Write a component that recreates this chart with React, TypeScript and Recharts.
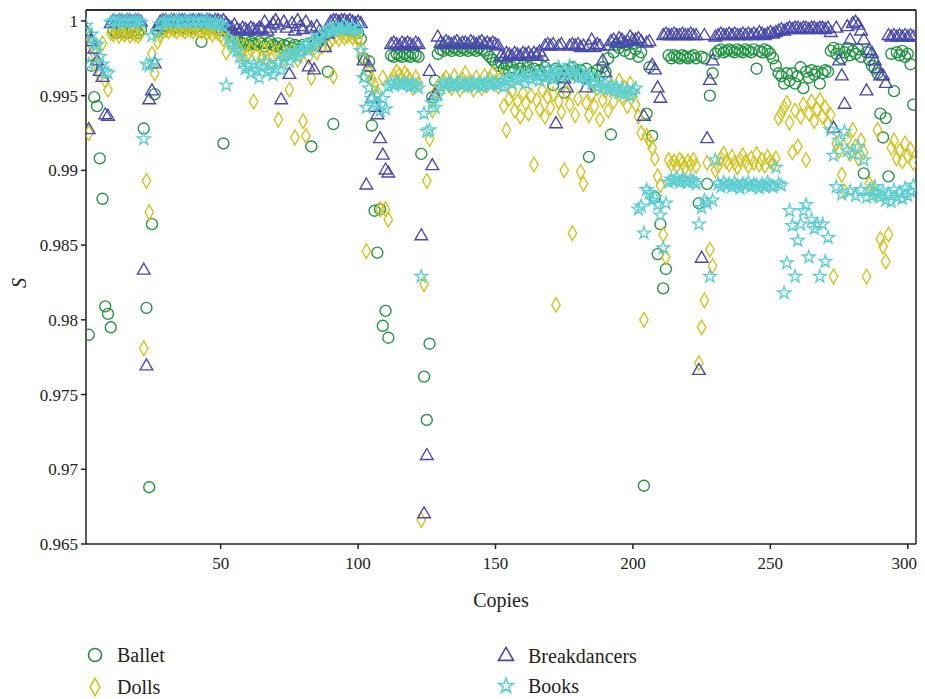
import React from 'react';
import { ScatterChart, Scatter, XAxis, YAxis, ReferenceLine, Symbols } from 'recharts';

const ballet: number[] = [
  0.9992, 0.9790, 0.9970, 0.9949, 0.9943, 0.9908, 0.9881, 0.9809, 0.9804, 0.9795,
  0.9994, 0.9992, 0.9995, 0.9993, 0.9994, 0.9992, 0.9995, 0.9993, 0.9994, 0.9992,
  0.9994, 0.9928, 0.9808, 0.9688, 0.9864, 0.9951, 0.9993, 0.9996, 0.9995, 0.9997,
  0.9996, 0.9997, 0.9995, 0.9996, 0.9997, 0.9996, 0.9995, 0.9997, 0.9996, 0.9995,
  0.9996, 0.9997, 0.9986, 0.9996, 0.9995, 0.9997, 0.9996, 0.9995, 0.9996, 0.9994,
  0.9918, 0.9993, 0.9991, 0.9992, 0.9990, 0.9988, 0.9986, 0.9985, 0.9987, 0.9984,
  0.9986, 0.9985, 0.9984, 0.9986, 0.9985, 0.9983, 0.9985, 0.9986, 0.9984, 0.9983,
  0.9985, 0.9982, 0.9984, 0.9983, 0.9985, 0.9982, 0.9984, 0.9983, 0.9981, 0.9984,
  0.9983, 0.9985, 0.9916, 0.9984, 0.9986, 0.9988, 0.9990, 0.9991, 0.9966, 0.9993,
  0.9931, 0.9995, 0.9994, 0.9996, 0.9995, 0.9994, 0.9995, 0.9993, 0.9994, 0.9992,
  0.9988, 0.9975, 0.9963, 0.9973, 0.9930, 0.9873, 0.9845, 0.9874, 0.9796, 0.9806,
  0.9788, 0.9977, 0.9976, 0.9978, 0.9977, 0.9976, 0.9978, 0.9977, 0.9976, 0.9978,
  0.9977, 0.9976, 0.9911, 0.9762, 0.9733, 0.9784, 0.9949, 0.9960, 0.9978, 0.9981,
  0.9980, 0.9982, 0.9981, 0.9980, 0.9982, 0.9981, 0.9980, 0.9982, 0.9981, 0.9980,
  0.9982, 0.9981, 0.9980, 0.9982, 0.9981, 0.9980, 0.9978, 0.9976, 0.9974, 0.9972,
  0.9970, 0.9972, 0.9968, 0.9971, 0.9966, 0.9969, 0.9967, 0.9972, 0.9968, 0.9970,
  0.9966, 0.9969, 0.9965, 0.9968, 0.9971, 0.9967, 0.9964, 0.9969, 0.9966, 0.9962,
  0.9957, 0.9968, 0.9966, 0.9963, 0.9952, 0.9967, 0.9965, 0.9969, 0.9966, 0.9963,
  0.9967, 0.9962, 0.9968, 0.9909, 0.9965, 0.9960, 0.9967, 0.9963, 0.9969, 0.9966,
  0.9975, 0.9924, 0.9979, 0.9984, 0.9982, 0.9985, 0.9980, 0.9984, 0.9978, 0.9985,
  0.9981, 0.9976, 0.9979, 0.9689, 0.9938, 0.9969, 0.9923, 0.9882, 0.9844, 0.9864,
  0.9821, 0.9834, 0.9977, 0.9975, 0.9977, 0.9976, 0.9975, 0.9977, 0.9976, 0.9975,
  0.9976, 0.9977, 0.9975, 0.9878, 0.9976, 0.9975, 0.9891, 0.9950, 0.9965, 0.9978,
  0.9980, 0.9981, 0.9979, 0.9980, 0.9981, 0.9980, 0.9979, 0.9981, 0.9980, 0.9979,
  0.9981, 0.9980, 0.9979, 0.9981, 0.9968, 0.9980, 0.9979, 0.9981, 0.9980, 0.9978,
  0.9975, 0.9970, 0.9965, 0.9963, 0.9958, 0.9965, 0.9960, 0.9965, 0.9958, 0.9963,
  0.9969, 0.9955, 0.9966, 0.9962, 0.9967, 0.9964, 0.9966, 0.9958, 0.9965, 0.9967,
  0.9966, 0.9980, 0.9982, 0.9978, 0.9981, 0.9975, 0.9979, 0.9982, 0.9977, 0.9980,
  0.9978, 0.9981, 0.9976, 0.9898, 0.9979, 0.9974, 0.9970, 0.9968, 0.9965, 0.9938,
  0.9922, 0.9935, 0.9896, 0.9978, 0.9953, 0.9979, 0.9977, 0.9980, 0.9976, 0.9978,
  0.9971, 0.9944,
];

const dolls: number[] = [
  0.9992, 0.9925, 0.9984, 0.9978, 0.9971, 0.9964, 0.9985, 0.9960, 0.9954, 0.9992,
  0.9991, 0.9993, 0.9990, 0.9992, 0.9991, 0.9993, 0.9990, 0.9992, 0.9991, 0.9990,
  0.9992, 0.9781, 0.9893, 0.9872, 0.9978, 0.9965, 0.9986, 0.9990, 0.9993, 0.9994,
  0.9993, 0.9995, 0.9994, 0.9993, 0.9995, 0.9994, 0.9993, 0.9995, 0.9994, 0.9993,
  0.9995, 0.9994, 0.9993, 0.9994, 0.9992, 0.9993, 0.9991, 0.9993, 0.9992, 0.9990,
  0.9988, 0.9979, 0.9990, 0.9985, 0.9987, 0.9982, 0.9980, 0.9976, 0.9983, 0.9978,
  0.9981, 0.9946, 0.9977, 0.9983, 0.9975, 0.9980, 0.9973, 0.9982, 0.9976, 0.9979,
  0.9934, 0.9981, 0.9975, 0.9978, 0.9954, 0.9980, 0.9922, 0.9974, 0.9977, 0.9933,
  0.9923, 0.9976, 0.9962, 0.9982, 0.9979, 0.9985, 0.9983, 0.9988, 0.9984, 0.9986,
  0.9963, 0.9990, 0.9988, 0.9991, 0.9989, 0.9990, 0.9991, 0.9989, 0.9990, 0.9988,
  0.9982, 0.9975, 0.9846, 0.9966, 0.9961, 0.9957, 0.9952, 0.9874, 0.9962, 0.9874,
  0.9867, 0.9960, 0.9963, 0.9966, 0.9964, 0.9961, 0.9965, 0.9963, 0.9960, 0.9955,
  0.9962, 0.9958, 0.9666, 0.9824, 0.9893, 0.9921, 0.9940, 0.9952, 0.9956, 0.9954,
  0.9960, 0.9962, 0.9957, 0.9955, 0.9963, 0.9958, 0.9954, 0.9961, 0.9965, 0.9957,
  0.9959, 0.9954, 0.9962, 0.9958, 0.9955, 0.9963, 0.9957, 0.9961, 0.9965, 0.9959,
  0.9956, 0.9962, 0.9943, 0.9927, 0.9948, 0.9953, 0.9940, 0.9946, 0.9936, 0.9952,
  0.9945, 0.9938, 0.9950, 0.9904, 0.9947, 0.9941, 0.9954, 0.9936, 0.9949, 0.9942,
  0.9951, 0.9810, 0.9946, 0.9939, 0.9900, 0.9952, 0.9944, 0.9858, 0.9937, 0.9948,
  0.9899, 0.9891, 0.9945, 0.9937, 0.9951, 0.9943, 0.9955, 0.9934, 0.9947, 0.9953,
  0.9940, 0.9957, 0.9946, 0.9954, 0.9960, 0.9949, 0.9955, 0.9943, 0.9958, 0.9952,
  0.9944, 0.9936, 0.9925, 0.9800, 0.9923, 0.9920, 0.9915, 0.9908, 0.9896, 0.9890,
  0.9857, 0.9842, 0.9907, 0.9904, 0.9906, 0.9903, 0.9907, 0.9905, 0.9902, 0.9906,
  0.9904, 0.9907, 0.9903, 0.9771, 0.9795, 0.9813, 0.9905, 0.9847, 0.9836, 0.9900,
  0.9903, 0.9908, 0.9911, 0.9906, 0.9904, 0.9909, 0.9905, 0.9902, 0.9907, 0.9910,
  0.9906, 0.9903, 0.9908, 0.9905, 0.9911, 0.9904, 0.9907, 0.9903, 0.9909, 0.9906,
  0.9904, 0.9908, 0.9935, 0.9938, 0.9942, 0.9945, 0.9932, 0.9912, 0.9940, 0.9916,
  0.9936, 0.9944, 0.9907, 0.9938, 0.9946, 0.9933, 0.9941, 0.9947, 0.9936, 0.9942,
  0.9931, 0.9937, 0.9829, 0.9918, 0.9913, 0.9897, 0.9886, 0.9921, 0.9911, 0.9927,
  0.9916, 0.9908, 0.9920, 0.9912, 0.9829, 0.9891, 0.9888, 0.9884, 0.9927, 0.9854,
  0.9849, 0.9839, 0.9857, 0.9915, 0.9920, 0.9908, 0.9913, 0.9906, 0.9918, 0.9910,
  0.9914, 0.9905,
];

const breakdancers: number[] = [
  0.9993, 0.9927, 0.9986, 0.9981, 0.9973, 0.9966, 0.9962, 0.9937, 0.9936, 0.9998,
  1.0000, 0.9999, 1.0000, 1.0000, 0.9999, 1.0000, 1.0000, 0.9999, 1.0000, 1.0000,
  0.9999, 0.9833, 0.9769, 0.9947, 0.9953, 0.9971, 0.9996, 0.9999, 1.0000, 1.0000,
  0.9999, 1.0000, 1.0000, 0.9999, 1.0000, 1.0000, 1.0000, 0.9999, 1.0000, 1.0000,
  0.9999, 1.0000, 1.0000, 0.9999, 1.0000, 1.0000, 0.9999, 1.0000, 1.0000, 0.9999,
  1.0000, 0.9998, 0.9996, 0.9995, 0.9997, 0.9994, 0.9993, 0.9995, 0.9994, 0.9993,
  0.9995, 0.9994, 0.9993, 0.9995, 0.9994, 0.9999, 0.9993, 0.9995, 0.9998, 1.0000,
  0.9997, 0.9947, 0.9999, 0.9995, 0.9964, 0.9998, 0.9993, 1.0000, 0.9996, 0.9994,
  0.9999, 0.9969, 0.9995, 0.9967, 0.9996, 0.9993, 0.9990, 0.9982, 0.9991, 0.9999,
  1.0000, 1.0000, 0.9999, 1.0000, 1.0000, 0.9999, 1.0000, 0.9999, 0.9998, 0.9999,
  0.9998, 0.9973, 0.9890, 0.9969, 0.9948, 0.9942, 0.9937, 0.9921, 0.9910, 0.9900,
  0.9898, 0.9984, 0.9985, 0.9984, 0.9983, 0.9985, 0.9984, 0.9985, 0.9984, 0.9983,
  0.9985, 0.9984, 0.9856, 0.9670, 0.9709, 0.9966, 0.9903, 0.9950, 0.9989, 0.9985,
  0.9984, 0.9986, 0.9985, 0.9984, 0.9985, 0.9986, 0.9984, 0.9985, 0.9985, 0.9984,
  0.9986, 0.9985, 0.9984, 0.9985, 0.9986, 0.9984, 0.9985, 0.9984, 0.9985, 0.9984,
  0.9983, 0.9976, 0.9975, 0.9978, 0.9977, 0.9976, 0.9978, 0.9977, 0.9976, 0.9978,
  0.9977, 0.9978, 0.9976, 0.9978, 0.9977, 0.9979, 0.9976, 0.9983, 0.9984, 0.9983,
  0.9984, 0.9931, 0.9983, 0.9984, 0.9961, 0.9955, 0.9983, 0.9984, 0.9983, 0.9984,
  0.9982, 0.9983, 0.9955, 0.9983, 0.9987, 0.9982, 0.9984, 0.9983, 0.9973, 0.9965,
  0.9983, 0.9986, 0.9987, 0.9985, 0.9988, 0.9987, 0.9985, 0.9986, 0.9989, 0.9987,
  0.9987, 0.9988, 0.9986, 0.9936, 0.9985, 0.9986, 0.9970, 0.9967, 0.9955, 0.9948,
  0.9990, 0.9991, 0.9990, 0.9990, 0.9991, 0.9990, 0.9990, 0.9991, 0.9990, 0.9990,
  0.9991, 0.9990, 0.9990, 0.9766, 0.9841, 0.9990, 0.9921, 0.9960, 0.9973, 0.9989,
  0.9990, 0.9991, 0.9990, 0.9990, 0.9991, 0.9990, 0.9991, 0.9990, 0.9990, 0.9991,
  0.9990, 0.9991, 0.9990, 0.9991, 0.9990, 0.9992, 0.9991, 0.9990, 0.9991, 0.9992,
  0.9991, 0.9992, 0.9993, 0.9994, 0.9993, 0.9994, 0.9995, 0.9994, 0.9995, 0.9995,
  0.9994, 0.9995, 0.9995, 0.9994, 0.9995, 0.9995, 0.9994, 0.9995, 0.9995, 0.9994,
  0.9995, 0.9992, 0.9928, 0.9995, 0.9973, 0.9963, 0.9944, 0.9996, 0.9987, 0.9998,
  0.9999, 0.9997, 0.9993, 0.9987, 0.9953, 0.9980, 0.9978, 0.9973, 0.9968, 0.9963,
  0.9963, 0.9958, 0.9990, 0.9989, 0.9990, 0.9989, 0.9990, 0.9989, 0.9990, 0.9989,
  0.9990, 0.9989,
];

const books: number[] = [
  0.9997, 0.9971, 0.9991, 0.9985, 0.9984, 0.9976, 0.9971, 0.9966, 0.9965, 0.9999,
  1.0000, 0.9999, 1.0000, 1.0000, 0.9999, 1.0000, 1.0000, 0.9999, 1.0000, 1.0000,
  0.9999, 0.9921, 0.9971, 0.9970, 0.9990, 0.9973, 0.9993, 0.9998, 0.9999, 1.0000,
  0.9999, 1.0000, 0.9999, 1.0000, 1.0000, 0.9999, 1.0000, 0.9999, 1.0000, 0.9999,
  1.0000, 0.9999, 1.0000, 0.9999, 1.0000, 0.9999, 0.9998, 0.9999, 0.9997, 0.9998,
  0.9996, 0.9957, 0.9988, 0.9985, 0.9982, 0.9980, 0.9976, 0.9972, 0.9968, 0.9970,
  0.9965, 0.9971, 0.9967, 0.9962, 0.9969, 0.9973, 0.9966, 0.9970, 0.9964, 0.9968,
  0.9972, 0.9967, 0.9975, 0.9978, 0.9973, 0.9977, 0.9980, 0.9976, 0.9979, 0.9982,
  0.9984, 0.9980, 0.9986, 0.9983, 0.9987, 0.9990, 0.9988, 0.9992, 0.9994, 0.9995,
  0.9993, 0.9996, 0.9994, 0.9995, 0.9997, 0.9995, 0.9994, 0.9996, 0.9993, 0.9995,
  0.9980, 0.9962, 0.9942, 0.9955, 0.9948, 0.9945, 0.9950, 0.9940, 0.9948, 0.9941,
  0.9956, 0.9958, 0.9957, 0.9959, 0.9958, 0.9957, 0.9959, 0.9958, 0.9956, 0.9958,
  0.9957, 0.9955, 0.9829, 0.9938, 0.9926, 0.9927, 0.9945, 0.9942, 0.9950, 0.9956,
  0.9958, 0.9957, 0.9959, 0.9958, 0.9956, 0.9958, 0.9959, 0.9957, 0.9958, 0.9956,
  0.9958, 0.9959, 0.9957, 0.9958, 0.9956, 0.9958, 0.9960, 0.9957, 0.9959, 0.9958,
  0.9957, 0.9959, 0.9956, 0.9960, 0.9962, 0.9958, 0.9963, 0.9960, 0.9965, 0.9962,
  0.9958, 0.9964, 0.9961, 0.9966, 0.9963, 0.9960, 0.9965, 0.9962, 0.9967, 0.9964,
  0.9961, 0.9966, 0.9969, 0.9963, 0.9967, 0.9964, 0.9970, 0.9965, 0.9968, 0.9962,
  0.9966, 0.9963, 0.9960, 0.9964, 0.9958, 0.9962, 0.9956, 0.9960, 0.9955, 0.9958,
  0.9954, 0.9957, 0.9953, 0.9956, 0.9952, 0.9955, 0.9951, 0.9954, 0.9950, 0.9953,
  0.9955, 0.9874, 0.9876, 0.9858, 0.9887, 0.9885, 0.9880, 0.9882, 0.9877, 0.9870,
  0.9848, 0.9878, 0.9892, 0.9894, 0.9893, 0.9895, 0.9892, 0.9894, 0.9893, 0.9892,
  0.9894, 0.9893, 0.9891, 0.9864, 0.9875, 0.9880, 0.9878, 0.9829, 0.9880, 0.9907,
  0.9891, 0.9889, 0.9892, 0.9890, 0.9891, 0.9889, 0.9892, 0.9890, 0.9888, 0.9891,
  0.9890, 0.9892, 0.9889, 0.9891, 0.9890, 0.9888, 0.9891, 0.9889, 0.9892, 0.9890,
  0.9889, 0.9902, 0.9891, 0.9890, 0.9818, 0.9838, 0.9873, 0.9863, 0.9829, 0.9853,
  0.9864, 0.9873, 0.9877, 0.9842, 0.9867, 0.9861, 0.9864, 0.9829, 0.9864, 0.9839,
  0.9855, 0.9927, 0.9910, 0.9889, 0.9920, 0.9884, 0.9926, 0.9913, 0.9886, 0.9911,
  0.9883, 0.9916, 0.9887, 0.9907, 0.9882, 0.9887, 0.9883, 0.9889, 0.9885, 0.9882,
  0.9886, 0.9880, 0.9884, 0.9879, 0.9887, 0.9882, 0.9885, 0.9881, 0.9888, 0.9883,
  0.9886, 0.9890,
];

const xTicks = [50, 100, 150, 200, 250, 300];
const yTicks = [0.965, 0.97, 0.975, 0.98, 0.985, 0.99, 0.995, 1];

const FONT = "'Liberation Serif', 'Times New Roman', Tinos, 'Noto Serif', 'DejaVu Serif', serif";
const TXT = '#222';

const series = [
  { name: 'Ballet', values: ballet, type: 'circle', size: 95, color: '#1f9340' },
  { name: 'Dolls', values: dolls, type: 'diamond', size: 62, color: '#d3c31c' },
  { name: 'Breakdancers', values: breakdancers, type: 'triangle', size: 70, color: '#4747ad' },
  { name: 'Books', values: books, type: 'star', size: 50, color: '#5ccfd2' },
];

const toPoints = (vals: number[]) => vals.map((v, i) => ({ x: i + 1, y: v }));

const makeShape = (type: any, size: number, color: string) => (props: any) => (
  <Symbols
    cx={props.cx}
    cy={props.cy}
    type={type}
    size={size}
    fill="none"
    stroke={color}
    strokeWidth={1.35}
  />
);

const YLabel = () => {
  const x = 11;
  const y = 275;
  return (
    <text
      x={x}
      y={y}
      transform={`rotate(-90, ${x}, ${y})`}
      textAnchor="middle"
      dominantBaseline="central"
      style={{ fontFamily: FONT, fontStyle: 'italic', fontSize: 20 }}
      fill={TXT}
    >
      S
    </text>
  );
};

const legendPos = [
  { x: 95, y: 655 },
  { x: 95, y: 687 },
  { x: 506, y: 656 },
  { x: 506, y: 686 },
];

const tickStyle = { fontFamily: FONT, fontSize: 17, fill: TXT, style: { fontFamily: FONT } };

export default function App() {
  return (
    <div style={{ position: 'relative', width: 909, height: 690, fontFamily: FONT }}>
      <ScatterChart width={909} height={615} margin={{ top: 1, right: 1, left: 0, bottom: 0 }}>
        <XAxis
          xAxisId="top"
          orientation="top"
          type="number"
          dataKey="x"
          domain={[1, 303]}
          allowDataOverflow
          height={1}
          tick={false}
          tickLine={false}
          stroke={TXT}
          strokeWidth={1.5}
        />
        <XAxis
          type="number"
          dataKey="x"
          domain={[1, 303]}
          ticks={xTicks}
          allowDataOverflow
          height={79}
          stroke={TXT}
          strokeWidth={1.5}
          tickSize={5}
          tickMargin={8}
          tick={tickStyle}
          label={{ value: 'Copies', position: 'insideBottom', offset: 16, style: { fontFamily: FONT, fontSize: 20, fill: TXT } }}
        />
        <YAxis
          type="number"
          dataKey="y"
          domain={[0.965, 1.00073]}
          ticks={yTicks}
          allowDataOverflow
          width={78}
          stroke={TXT}
          strokeWidth={1.5}
          tickSize={5}
          tickMargin={3}
          tick={tickStyle}
          label={<YLabel />}
        />
        <ReferenceLine x={303} stroke={TXT} strokeWidth={1.5} ifOverflow="visible" />
        <ReferenceLine y={1.00073} stroke={TXT} strokeWidth={1.5} ifOverflow="visible" />
        {series.map((s) => (
          <Scatter
            key={s.name}
            name={s.name}
            data={toPoints(s.values)}
            shape={makeShape(s.type, s.size, s.color)}
            isAnimationActive={false}
          />
        ))}
      </ScatterChart>
      <svg width={909} height={100} style={{ position: 'absolute', left: 0, top: 592 }}>
        {series.map((s, i) => {
          const p = legendPos[i];
          const cx = p.x - 8;
          const cy = p.y - 600;
          return (
            <g key={s.name}>
              <Symbols cx={cx} cy={cy} type={s.type as any} size={s.size * 1.4} fill="none" stroke={s.color} strokeWidth={1.6} />
              <text
                x={cx + 22}
                y={cy}
                dominantBaseline="central"
                style={{ fontFamily: FONT, fontSize: 20 }}
                fill={TXT}
              >
                {s.name}
              </text>
            </g>
          );
        })}
      </svg>
    </div>
  );
}
